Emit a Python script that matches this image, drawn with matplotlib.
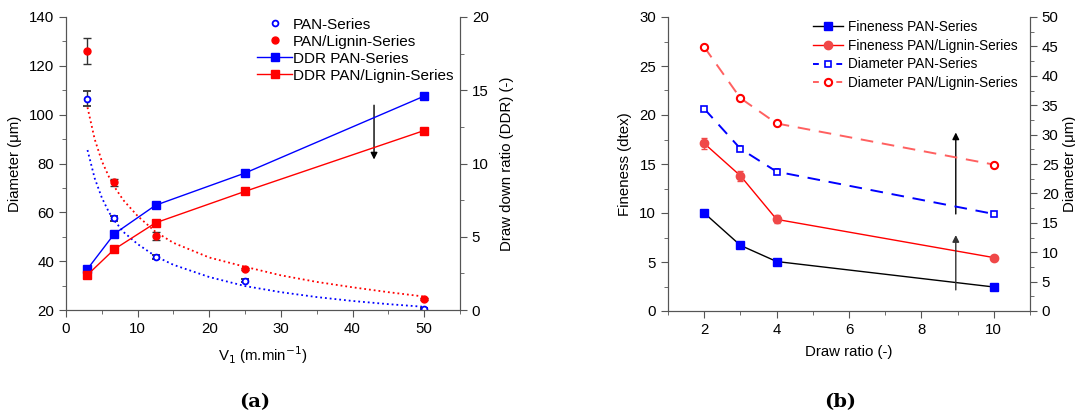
import matplotlib
matplotlib.use('Agg')
import matplotlib.pyplot as plt
from matplotlib.lines import Line2D
from matplotlib.ticker import MultipleLocator

plt.rcParams['font.family'] = ['Liberation Sans', 'DejaVu Sans']
plt.rcParams['font.size'] = 10.8

# (a) take-up speed series
v1 = [3, 6.75, 12.5, 25, 50]
dia_pan = [106.5, 57.5, 41.8, 32.0, 20.5]
dia_pan_err = [3.0, 1.1, 0.8, 0.5, 0.4]
dia_lig = [126.0, 72.3, 50.3, 36.8, 24.5]
dia_lig_err = [5.2, 1.5, 1.6, 0.6, 0.5]
ddr_pan = [2.8, 5.2, 7.15, 9.35, 14.6]
ddr_lig = [2.4, 4.15, 5.95, 8.1, 12.25]

# dotted fit curves
fit_x = [3, 4, 5, 6, 6.75, 8, 10, 12.5, 15, 20, 25, 30, 35, 40, 45, 50]
fit_pan = [85.5, 74, 66, 60, 56.7, 52, 47, 42, 38.5, 33.5, 29.8, 27.3, 25.3, 23.7, 22.4, 21.3]
fit_lig = [103, 90, 81, 74.5, 70.5, 65, 58.5, 52, 47.5, 41.5, 37.7, 34.2, 31.5, 29.3, 27.3, 25.5]

# (b) draw ratio series
dr = [2, 3, 4, 10]
fin_pan = [10.0, 6.7, 5.05, 2.45]
fin_pan_err = [0.25, 0.15, 0.1, 0.1]
fin_lig = [17.1, 13.8, 9.35, 5.45]
fin_lig_err = [0.6, 0.5, 0.4, 0.15]
dia2_pan = [34.4, 27.6, 23.7, 16.5]
dia2_pan_err = [0.3, 0.4, 0.4, 0.3]
dia2_lig = [44.9, 36.2, 31.9, 24.9]
dia2_lig_err = [0.3, 0.4, 0.4, 0.3]

BLUE = '#0000ff'
RED = '#ff0000'
LRED = '#f04848'
DRED = '#ff6060'
AX = '#555555'


def style(ax):
    for s in ax.spines.values():
        s.set_color(AX)
    ax.spines['top'].set_visible(False)
    ax.tick_params(which='both', direction='out', colors=AX, labelcolor='black',
                   labelsize=10.8)
    ax.tick_params(which='major', length=5)
    ax.tick_params(which='minor', length=3)


fig = plt.figure(figsize=(10.75, 4.18), dpi=100)

# ---------------- (a) ----------------
ax = fig.add_axes([66 / 1075, 108 / 418, 394 / 1075, 293 / 418])
ax2 = ax.twinx()
style(ax)
style(ax2)

ax.plot(fit_x, fit_pan, ':', color=BLUE, lw=1.3)
ax.plot(fit_x, fit_lig, ':', color=RED, lw=1.3)
ax.errorbar(v1, dia_pan, yerr=dia_pan_err, fmt='o', mfc='white', mec=BLUE, mew=1.3,
            ms=4.2, ecolor='#333333', elinewidth=1, capsize=3)
ax.errorbar(v1, dia_lig, yerr=dia_lig_err, fmt='o', color=RED, ms=5,
            ecolor='#333333', elinewidth=1, capsize=3)
ax2.plot(v1, ddr_pan, '-s', color=BLUE, lw=1, ms=5.8)
ax2.plot(v1, ddr_lig, '-s', color=RED, lw=1, ms=5.8)

ax.set_xlim(0, 55)
ax.set_ylim(20, 140)
ax2.set_ylim(0, 20)
ax.xaxis.set_major_locator(MultipleLocator(10))
ax.xaxis.set_minor_locator(MultipleLocator(5))
ax.yaxis.set_major_locator(MultipleLocator(20))
ax.yaxis.set_minor_locator(MultipleLocator(10))
ax2.yaxis.set_major_locator(MultipleLocator(5))
ax2.yaxis.set_minor_locator(MultipleLocator(2.5))
ax.set_xlabel('V$_1$ (m.min$^{-1}$)', labelpad=6)
ax.set_ylabel('Diameter (\u03bcm)', labelpad=5)
ax2.set_ylabel('Draw down ratio (DDR) (-)', labelpad=8)

ax.annotate('', xy=(43, 80.5), xytext=(43, 105),
            arrowprops=dict(arrowstyle='-|>', color='black', lw=1, mutation_scale=10))

h_a = [
    Line2D([], [], ls='none', marker='o', mfc='white', mec=BLUE, mew=1.3, ms=4.2),
    Line2D([], [], ls='none', marker='o', color=RED, ms=5),
    Line2D([], [], ls='-', marker='s', color=BLUE, lw=1, ms=5.8),
    Line2D([], [], ls='-', marker='s', color=RED, lw=1, ms=5.8),
]
l_a = ['PAN-Series', 'PAN/Lignin-Series', 'DDR PAN-Series', 'DDR PAN/Lignin-Series']
ax2.legend(h_a, l_a, loc='upper left', bbox_to_anchor=(0.485, 0.998), frameon=False,
           borderpad=0, borderaxespad=0, handlelength=2.3, handletextpad=0.05,
           labelspacing=0.2, fontsize=11)

# ---------------- (b) ----------------
bx = fig.add_axes([668 / 1075, 107 / 418, 362 / 1075, 294 / 418])
bx2 = bx.twinx()
style(bx)
style(bx2)

bx.errorbar(dr, fin_pan, yerr=fin_pan_err, fmt='-s', color='black', mfc=BLUE, mec=BLUE,
            lw=1, ms=5.2, ecolor=BLUE, capsize=2.5)
bx.errorbar(dr, fin_lig, yerr=fin_lig_err, fmt='-o', color=RED, mfc=LRED, mec=LRED,
            lw=1, ms=6, ecolor=LRED, capsize=2.5)
bx2.errorbar(dr, dia2_pan, yerr=dia2_pan_err, fmt='--s', color=BLUE, mfc='white', mec=BLUE,
             mew=1.2, lw=1.4, ms=4.6, ecolor=BLUE, capsize=1.5, dashes=(6.5, 4.5))
bx2.errorbar(dr, dia2_lig, yerr=dia2_lig_err, fmt='--o', color=DRED, mfc='white', mec=RED,
             mew=1.5, lw=1.4, ms=5.2, ecolor=RED, capsize=1.5, dashes=(6.5, 4.5))

bx.set_xlim(1, 11)
bx.set_ylim(0, 30)
bx2.set_ylim(0, 50)
bx.xaxis.set_major_locator(MultipleLocator(2))
bx.xaxis.set_minor_locator(MultipleLocator(1))
bx.yaxis.set_major_locator(MultipleLocator(5))
bx.yaxis.set_minor_locator(MultipleLocator(2.5))
bx2.yaxis.set_major_locator(MultipleLocator(5))
bx2.yaxis.set_minor_locator(MultipleLocator(2.5))
bx.set_xlabel('Draw ratio (-)', labelpad=6)
bx.set_ylabel('Fineness (dtex)', labelpad=5)
bx2.set_ylabel('Diameter (\u03bcm)', labelpad=3)

bx.annotate('', xy=(8.95, 8.03), xytext=(8.95, 1.87),
            arrowprops=dict(arrowstyle='-|>', color='#333333', lw=1, mutation_scale=10))
bx.annotate('', xy=(8.95, 18.5), xytext=(8.95, 9.62),
            arrowprops=dict(arrowstyle='-|>', color='black', lw=1, mutation_scale=10))

h_b = [
    Line2D([], [], ls='-', marker='s', color='black', mfc=BLUE, mec=BLUE, lw=1, ms=5.2),
    Line2D([], [], ls='-', marker='o', color=RED, mfc=LRED, mec=LRED, lw=1, ms=6),
    Line2D([], [], ls='--', marker='s', color=BLUE, mfc='white', mec=BLUE, mew=1.2, lw=1.4,
           ms=4.6, dashes=(3, 3)),
    Line2D([], [], ls='--', marker='o', color=DRED, mfc='white', mec=RED, mew=1.5, lw=1.4,
           ms=5.2, dashes=(3, 3)),
]
l_b = ['Fineness PAN-Series', 'Fineness PAN/Lignin-Series',
       'Diameter PAN-Series', 'Diameter PAN/Lignin-Series']
bx2.legend(h_b, l_b, loc='upper left', bbox_to_anchor=(0.40, 0.99), frameon=False,
           borderpad=0, borderaxespad=0, handlelength=2.2, handletextpad=0.35,
           labelspacing=0.35, fontsize=9.8)

fig.text(255 / 1075, 1 - 402 / 418, '(a)', ha='center', va='center',
         family='DejaVu Serif', weight='bold', fontsize=14)
fig.text(840 / 1075, 1 - 402 / 418, '(b)', ha='center', va='center',
         family='DejaVu Serif', weight='bold', fontsize=14)

fig.savefig('out.png', dpi=100)
